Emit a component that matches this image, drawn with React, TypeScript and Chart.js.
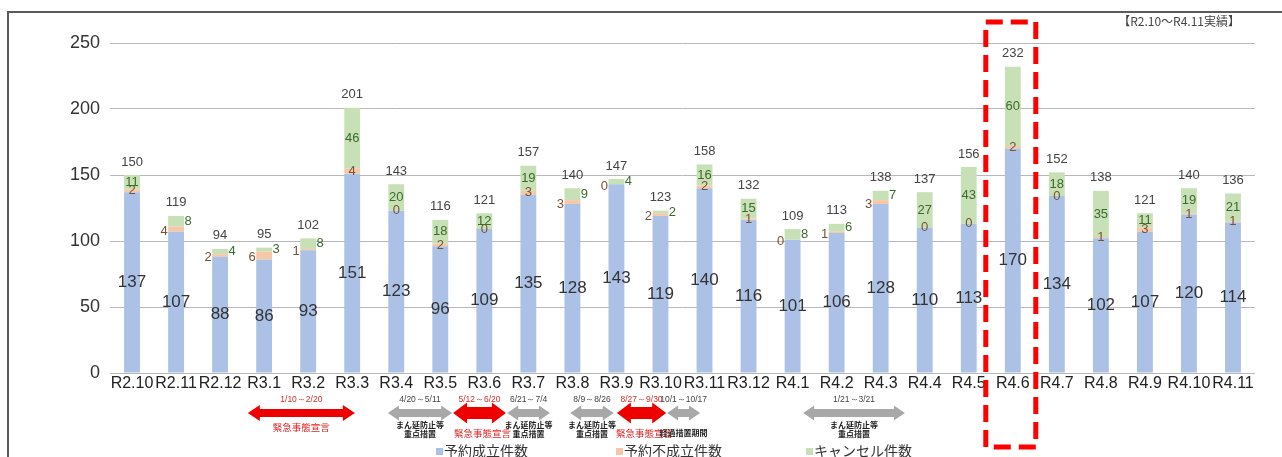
import React, { useEffect, useRef } from "react";
import { Chart, registerables } from "chart.js";

Chart.register(...registerables);

const categories = [
  "R2.10", "R2.11", "R2.12", "R3.1", "R3.2", "R3.3", "R3.4", "R3.5", "R3.6", "R3.7",
  "R3.8", "R3.9", "R3.10", "R3.11", "R3.12", "R4.1", "R4.2", "R4.3", "R4.4", "R4.5",
  "R4.6", "R4.7", "R4.8", "R4.9", "R4.10", "R4.11",
];
const bookedValues = [137, 107, 88, 86, 93, 151, 123, 96, 109, 135, 128, 143, 119, 140, 116, 101, 106, 128, 110, 113, 170, 134, 102, 107, 120, 114];
const failedValues = [2, 4, 2, 6, 1, 4, 0, 2, 0, 3, 3, 0, 2, 2, 1, 0, 1, 3, 0, 0, 2, 0, 1, 3, 1, 1];
const cancelValues = [11, 8, 4, 3, 8, 46, 20, 18, 12, 19, 9, 4, 2, 16, 15, 8, 6, 7, 27, 43, 60, 18, 35, 11, 19, 21];
const seriesNames = ["予約成立件数", "予約不成立件数", "キャンセル件数"];
const seriesColors = ["#abc1e5", "#f6c8a8", "#c8e0b6"];
const yMax = 250;
const yStep = 50;
const highlightCategory = "R4.6";
const periodNote = "【R2.10～R4.11実績】";

// decorative annotations (period arrows), positions in category-index units
const periods = [
  { from: 2.63, to: 5.06, kind: "red", date: "1/10～2/20", lines: ["緊急事態宣言"], big: false },
  { from: 5.81, to: 7.27, kind: "gray", date: "4/20～5/11", lines: ["まん延防止等", "重点措置"], big: false },
  { from: 7.29, to: 8.49, kind: "red", date: "5/12～6/20", lines: ["緊急事態宣言"], big: true },
  { from: 8.52, to: 9.49, kind: "gray", date: "6/21～7/4", lines: ["まん延防止等", "重点措置"], big: false },
  { from: 9.95, to: 10.94, kind: "gray", date: "8/9～8/26", lines: ["まん延防止等", "重点措置"], big: false },
  { from: 11.01, to: 12.13, kind: "red", date: "8/27～9/30", lines: ["緊急事態宣言"], big: true },
  { from: 12.15, to: 12.9, kind: "gray", date: "10/1～10/17", lines: ["経過措置期間"], big: false },
  { from: 15.24, to: 17.55, kind: "gray", date: "1/21～3/21", lines: ["まん延防止等", "重点措置"], big: false },
];

const NUM_FONT = '"Liberation Sans", Arial, sans-serif';
const JP_FONT = '"Noto Sans CJK JP", sans-serif';

function drawArrow(ctx: CanvasRenderingContext2D, x1: number, x2: number, y: number, bodyH: number, headH: number, headL: number, color: string) {
  ctx.save();
  ctx.fillStyle = color;
  ctx.beginPath();
  ctx.moveTo(x1, y);
  ctx.lineTo(x1 + headL, y - headH / 2);
  ctx.lineTo(x1 + headL, y - bodyH / 2);
  ctx.lineTo(x2 - headL, y - bodyH / 2);
  ctx.lineTo(x2 - headL, y - headH / 2);
  ctx.lineTo(x2, y);
  ctx.lineTo(x2 - headL, y + headH / 2);
  ctx.lineTo(x2 - headL, y + bodyH / 2);
  ctx.lineTo(x1 + headL, y + bodyH / 2);
  ctx.lineTo(x1 + headL, y + headH / 2);
  ctx.closePath();
  ctx.fill();
  ctx.restore();
}

const valueLabels = {
  id: "valueLabels",
  afterDatasetsDraw(chart: any) {
    const ctx: CanvasRenderingContext2D = chart.ctx;
    const m0 = chart.getDatasetMeta(0);
    const m1 = chart.getDatasetMeta(1);
    const m2 = chart.getDatasetMeta(2);
    ctx.save();
    ctx.textAlign = "center";
    ctx.textBaseline = "middle";
    categories.forEach((_, i) => {
      const b = m0.data[i];
      const o = m1.data[i];
      const g = m2.data[i];
      const x = b.x;
      ctx.font = `17px ${NUM_FONT}`;
      ctx.fillStyle = "#333";
      ctx.fillText(String(bookedValues[i]), x, (b.y + b.base) / 2);
      const gH = g.base - g.y;
      const small = gH < 13;
      ctx.font = `13px ${NUM_FONT}`;
      ctx.fillStyle = "#7a5230";
      ctx.fillText(String(failedValues[i]), small ? x - 12 : x, (o.y + o.base) / 2 + (small ? 2 : 0));
      ctx.fillStyle = "#3b6b2b";
      ctx.fillText(String(cancelValues[i]), small ? x + 12 : x, (g.y + g.base) / 2);
      const total = bookedValues[i] + failedValues[i] + cancelValues[i];
      ctx.fillStyle = "#444";
      ctx.fillText(String(total), x, g.y - 13);
    });
    ctx.restore();
  },
};

const decorations = {
  id: "decorations",
  afterDraw(chart: any) {
    const ctx: CanvasRenderingContext2D = chart.ctx;
    const xs = chart.scales.x;
    const x0 = xs.getPixelForValue(0);
    const step = xs.getPixelForValue(1) - x0;
    const px = (v: number) => x0 + v * step;
    ctx.save();
    // frame
    ctx.strokeStyle = "#5a5a5a";
    ctx.lineWidth = 2;
    ctx.beginPath();
    ctx.moveTo(8, 457);
    ctx.lineTo(8, 12);
    ctx.lineTo(1282, 12);
    ctx.stroke();
    // note
    ctx.font = `12px ${JP_FONT}`;
    ctx.fillStyle = "#444";
    ctx.textAlign = "right";
    ctx.textBaseline = "middle";
    ctx.fillText(periodNote, 1240, 21);
    // period arrows
    ctx.textAlign = "center";
    periods.forEach((p) => {
      const a = px(p.from);
      const b = px(p.to);
      const c = (a + b) / 2;
      const red = p.kind === "red";
      if (red) {
        if (p.big) drawArrow(ctx, a, b, 413, 12, 21, 14, "#ee0000");
        else drawArrow(ctx, a, b, 413, 8, 16, 12, "#ee0000");
      } else {
        drawArrow(ctx, a, b, 413, 8, 15, 11, "#a8a8a8");
      }
      ctx.font = `8.5px ${NUM_FONT}`;
      ctx.fillStyle = red ? "#d03030" : "#444";
      ctx.fillText(p.date, c, 400);
      if (red) {
        ctx.font = `9.5px ${JP_FONT}`;
        ctx.fillStyle = "#e02020";
        ctx.fillText(p.lines[0], c + (p.big ? 3 : 0), p.big ? 433 : 427);
      } else {
        ctx.font = `bold 8px ${JP_FONT}`;
        ctx.fillStyle = "#222";
        if (p.lines.length === 2) {
          ctx.fillText(p.lines[0], c, 425);
          ctx.fillText(p.lines[1], c, 434);
        } else {
          ctx.fillText(p.lines[0], c, 433);
        }
      }
    });
    // legend
    const legendX = [436, 616, 806];
    ctx.textAlign = "left";
    ctx.font = `14px ${JP_FONT}`;
    seriesNames.forEach((n, i) => {
      ctx.fillStyle = seriesColors[i];
      ctx.fillRect(legendX[i], 448, 7, 7);
      ctx.fillStyle = "#333";
      ctx.fillText(n, legendX[i] + 8, 451);
    });
    // highlight box
    const hi = categories.indexOf(highlightCategory);
    const hx = px(hi);
    ctx.strokeStyle = "#ff0000";
    ctx.lineWidth = 5;
    ctx.setLineDash([17, 8]);
    ctx.strokeRect(hx - 27, 22, 50, 425);
    ctx.restore();
  },
};

export default function App() {
  const ref = useRef<HTMLCanvasElement | null>(null);
  useEffect(() => {
    if (!ref.current) return;
    const chart = new Chart(ref.current, {
      type: "bar",
      data: {
        labels: categories,
        datasets: [
          { label: seriesNames[0], data: bookedValues, backgroundColor: seriesColors[0] },
          { label: seriesNames[1], data: failedValues, backgroundColor: seriesColors[1] },
          { label: seriesNames[2], data: cancelValues, backgroundColor: seriesColors[2] },
        ],
      },
      options: {
        responsive: false,
        animation: false,
        layout: { padding: { top: 43, right: 27, left: 0, bottom: 0 } },
        datasets: { bar: { categoryPercentage: 1, barPercentage: 0.36 } },
        plugins: { legend: { display: false }, tooltip: { enabled: false } },
        scales: {
          x: {
            stacked: true,
            grid: { display: false, drawTicks: false },
            border: { display: false },
            ticks: {
              autoSkip: false,
              maxRotation: 0,
              padding: 1,
              color: "#222",
              font: { family: NUM_FONT, size: 16 },
            },
            afterFit: (s: any) => { s.height = 84; },
          },
          y: {
            stacked: true,
            min: 0,
            max: yMax,
            grid: { color: "#b8b8b8", lineWidth: 1, drawTicks: false },
            border: { display: false },
            ticks: {
              stepSize: yStep,
              padding: 10,
              color: "#333",
              font: { family: NUM_FONT, size: 18 },
            },
            afterFit: (s: any) => { s.width = 110; },
          },
        },
      },
      plugins: [valueLabels, decorations],
    });
    return () => chart.destroy();
  }, []);
  return (
    <div style={{ position: "fixed", left: 0, top: 0, width: 1282, height: 457, background: "#fff" }}>
      <canvas ref={ref} width={1282} height={457} style={{ display: "block" }} />
    </div>
  );
}
